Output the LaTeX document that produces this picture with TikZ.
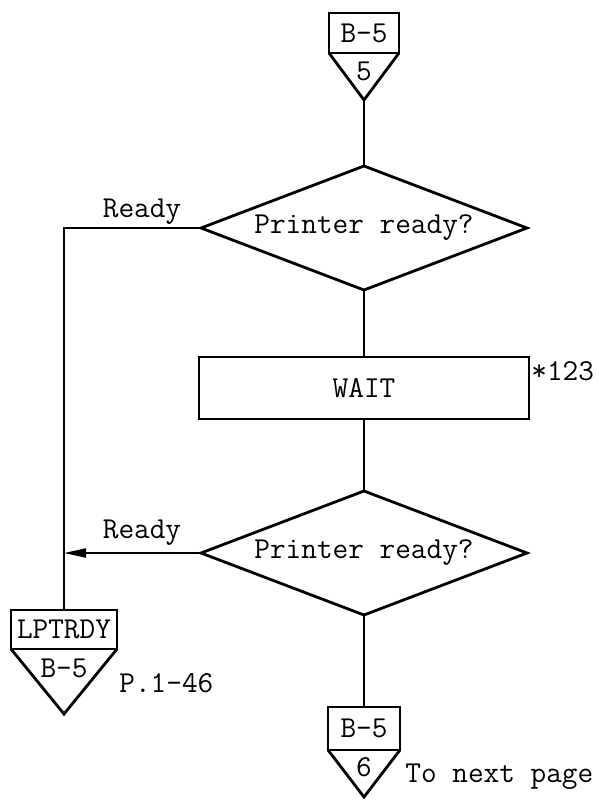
\documentclass[tikz,border=0pt]{standalone}
\usepackage{fontspec}
\usetikzlibrary{shapes.geometric,arrows.meta}
\tikzset{
  every node/.style={font=\ttfamily\fontsize{15.2pt}{18pt}\selectfont},
  flowline/.style={line width=1pt},
  shapeline/.style={line width=1.4pt, line join=miter},
  decision/.style={diamond, aspect=2.6, draw, shapeline, minimum width=163pt,
    minimum height=62pt, inner sep=0pt, outer sep=0pt},
  procbox/.style={rectangle, draw, shapeline, minimum width=165pt,
    minimum height=31pt, outer sep=0pt},
  refbox/.style={rectangle, draw, shapeline, inner sep=0pt, outer sep=0pt},
  note/.style={inner sep=0pt, anchor=west},
  arrowtip/.style={-{Triangle[length=11pt,width=4.5pt]}}
}
\begin{document}
\begin{tikzpicture}[x=0.5pt,y=-0.5pt]
\useasboundingbox (0,0) rectangle (599,800);

% entry connector from B-5, point 5
\node[refbox, minimum width=35pt, minimum height=20pt] (topbox) at (364,33) {B-5};
\coordinate (toptip) at (364,100);
\draw[shapeline] (topbox.south west) -- (toptip) -- (topbox.south east);
\node (toplabel) at (364,71) {5};

% first printer check
\node[decision] (q1) at (364,228) {Printer ready?};
\draw[flowline] (toptip) -- (q1.north);

% wait routine
\node[procbox] (wait) at (364,388) {WAIT};
\node[note] (waitnote) at (531,371) {*123};
\draw[flowline] (q1.south) -- (wait.north);

% second printer check
\node[decision] (q2) at (364,553) {Printer ready?};
\draw[flowline] (wait.south) -- (q2.north);

% connector to LPTRDY
\node[refbox, minimum width=53pt, minimum height=19.5pt] (lpbox) at (64,629.5) {LPTRDY};
\coordinate (lptip) at (64,714);
\draw[shapeline] (lpbox.south west) -- (lptip) -- (lpbox.south east);
\node (lplabel) at (64,668) {B-5};
\node[note] (lpnote) at (119,683) {P.1-46};

% ready branches
\coordinate (corner) at (64,228);
\draw[flowline] (q1.west) -- (corner) -- (lpbox.north);
\node (ready1) at (142,212) {Ready};
\draw[flowline, arrowtip] (q2.west) -- (q2.west -| corner);
\node (ready2) at (142,533) {Ready};

% exit connector to B-5, point 6
\node[refbox, minimum width=36pt, minimum height=21.5pt] (botbox) at (364,728.5) {B-5};
\coordinate (bottip) at (364,797);
\draw[shapeline] (botbox.south west) -- (bottip) -- (botbox.south east);
\node (botlabel) at (364,767) {6};
\draw[flowline] (q2.south) -- (botbox.north);
\node[note] (botnote) at (405,777) {To next page};
\end{tikzpicture}
\end{document}
